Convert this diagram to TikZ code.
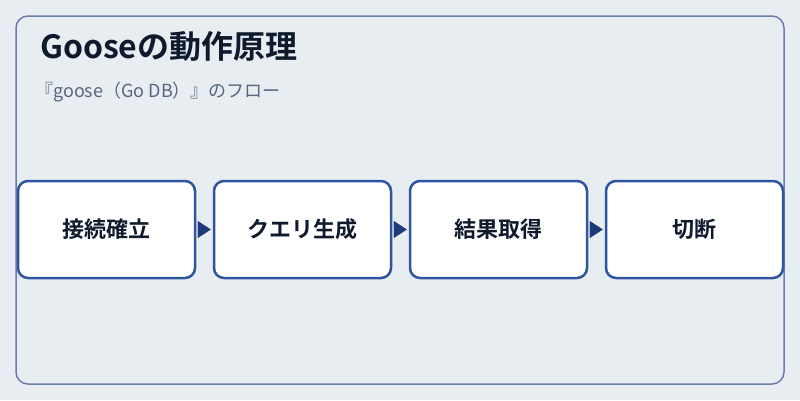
\documentclass[tikz,border=0pt]{standalone}
\usepackage{fontspec}
\setmainfont{Noto Sans CJK JP}
\newfontfamily\jpbold{Noto Sans CJK JP Bold}
\usetikzlibrary{positioning,arrows.meta}
\definecolor{bgcol}{HTML}{E8EDF2}
\definecolor{framecol}{HTML}{6B7FAB}
\definecolor{boxcol}{HTML}{2F54A0}
\definecolor{arrowcol}{HTML}{1E3A78}
\definecolor{textcol}{HTML}{0F1B2D}
\definecolor{subcol}{HTML}{566782}

\begin{document}
\begin{tikzpicture}[x=1pt,y=-1pt,
        step box/.style={draw=boxcol,line width=2.5pt,fill=white,rounded corners=10pt,
            minimum width=177pt,minimum height=97pt,font=\jpbold\fontsize{22}{26}\selectfont,text=textcol},
        flow/.style={arrowcol,line width=0.01pt,shorten <=2pt,shorten >=2pt,
            -{Triangle[length=13pt,width=17pt]}},
        node distance=16.5pt]

    \useasboundingbox[fill=bgcol] (0,0) rectangle (800,400);
    \draw[framecol,line width=1.5pt,rounded corners=12pt] (16,16) rectangle (784,384);

    \node[anchor=base west,text=textcol,font=\jpbold\fontsize{32}{36}\selectfont,inner sep=0pt] (title) at (40,58) {Gooseの動作原理};
    \node[anchor=base west,text=subcol,font=\fontsize{18}{21}\selectfont,inner sep=0pt] (subtitle) at (35,97) {『goose（Go DB）』のフロー};

    \node[step box] (connect) at (106.5,229.5) {接続確立};
    \node[step box,right=of connect] (query) {クエリ生成};
    \node[step box,right=of query] (result) {結果取得};
    \node[step box,right=of result] (close) {切断};

    \draw[flow] (connect) -- (query);
    \draw[flow] (query) -- (result);
    \draw[flow] (result) -- (close);
\end{tikzpicture}
\end{document}
